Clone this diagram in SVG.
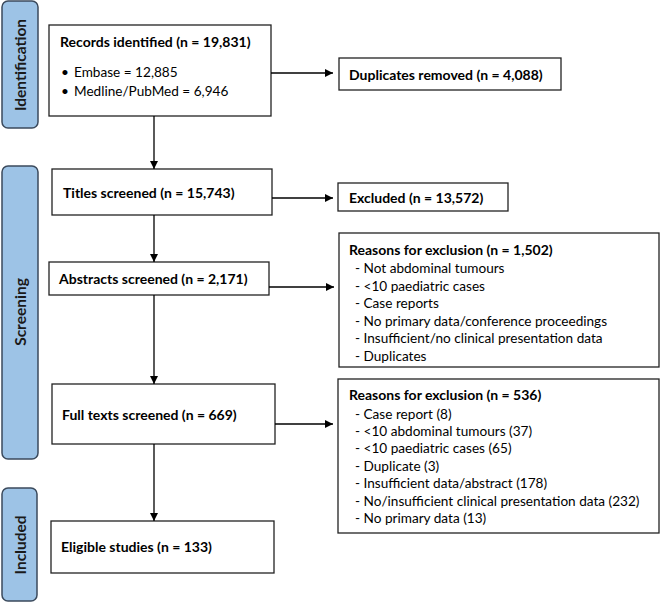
<svg xmlns="http://www.w3.org/2000/svg" width="661" height="602" viewBox="0 0 661 602">
<style>
.box{fill:#fff;stroke:#222;stroke-width:1.3}
.bar{fill:#9dc3e6;stroke:#3b4a5c;stroke-width:1.5}
.t{font-family:Lato,"Open Sans",sans-serif;font-size:13.6px;fill:#000}
.b{font-weight:bold;font-size:14px}
.lab{font-family:Lato,"Open Sans",sans-serif;font-size:15.5px;font-weight:bold;fill:#1a1a1a;text-anchor:middle}
.c{stroke:#000;stroke-width:1.3;fill:none;marker-end:url(#ah)}
</style>
<defs>
<marker id="ah" viewBox="0 0 10 10" refX="10" refY="5" markerWidth="8" markerHeight="8" markerUnits="userSpaceOnUse" orient="auto">
<path d="M0,0 L10,5 L0,10 z" fill="#000"/>
</marker>
</defs>
<g id="stage-identification">
<rect class="bar" x="2" y="1" width="36" height="127" rx="6"/>
<text class="lab" transform="translate(26,65) rotate(-90)">Identification</text>
</g>
<g id="stage-screening">
<rect class="bar" x="2" y="166" width="36" height="293" rx="6"/>
<text class="lab" transform="translate(26,312) rotate(-90)">Screening</text>
</g>
<g id="stage-included">
<rect class="bar" x="2" y="488" width="35" height="113" rx="6"/>
<text class="lab" transform="translate(26,545) rotate(-90)">Included</text>
</g>
<g id="records">
<rect class="box" x="49" y="25" width="222" height="91"/>
<text class="t b" x="60" y="47">Records identified (n = 19,831)</text>
<text class="t" x="61" y="77">•</text>
<text class="t" x="74" y="77">Embase = 12,885</text>
<text class="t" x="61" y="96">•</text>
<text class="t" x="74" y="96">Medline/PubMed = 6,946</text>
</g>
<g id="duplicates">
<rect class="box" x="339" y="58" width="222" height="32"/>
<text class="t b" x="349" y="80">Duplicates removed (n = 4,088)</text>
</g>
<g id="titles">
<rect class="box" x="52" y="169" width="220" height="46"/>
<text class="t b" x="63" y="198">Titles screened (n = 15,743)</text>
</g>
<g id="excluded">
<rect class="box" x="338" y="183" width="170" height="28"/>
<text class="t b" x="349" y="203">Excluded (n = 13,572)</text>
</g>
<g id="abstracts">
<rect class="box" x="49" y="262" width="220" height="33"/>
<text class="t b" x="59" y="284">Abstracts screened (n = 2,171)</text>
</g>
<g id="reasons1">
<rect class="box" x="339" y="233" width="320" height="134"/>
<text class="t b" x="349" y="255">Reasons for exclusion (n = 1,502)</text>
<text class="t" x="355" y="273">- Not abdominal tumours</text>
<text class="t" x="355" y="290.5">- &lt;10 paediatric cases</text>
<text class="t" x="355" y="308">- Case reports</text>
<text class="t" x="355" y="325.5">- No primary data/conference proceedings</text>
<text class="t" x="355" y="343">- Insufficient/no clinical presentation data</text>
<text class="t" x="355" y="360.5">- Duplicates</text>
</g>
<g id="fulltexts">
<rect class="box" x="52" y="384" width="223" height="60"/>
<text class="t b" x="62" y="420">Full texts screened (n = 669)</text>
</g>
<g id="reasons2">
<rect class="box" x="338" y="379" width="321" height="154"/>
<text class="t b" x="349" y="400">Reasons for exclusion (n = 536)</text>
<text class="t" x="355" y="418.5">- Case report (8)</text>
<text class="t" x="355" y="436">- &lt;10 abdominal tumours (37)</text>
<text class="t" x="355" y="453">- &lt;10 paediatric cases (65)</text>
<text class="t" x="355" y="471">- Duplicate (3)</text>
<text class="t" x="355" y="488">- Insufficient data/abstract (178)</text>
<text class="t" x="355" y="505.5">- No/insufficient clinical presentation data (232)</text>
<text class="t" x="355" y="523">- No primary data (13)</text>
</g>
<g id="eligible">
<rect class="box" x="51" y="521" width="223" height="52"/>
<text class="t b" x="61" y="552">Eligible studies (n = 133)</text>
</g>
<g id="connectors">
<path class="c" d="M271,73 H333"/>
<path class="c" d="M154,116 V169"/>
<path class="c" d="M272,198 H333"/>
<path class="c" d="M154,215 V262"/>
<path class="c" d="M269,287 H334"/>
<path class="c" d="M154,295 V384"/>
<path class="c" d="M275,424 H333"/>
<path class="c" d="M154,444 V521"/>
</g>
</svg>
